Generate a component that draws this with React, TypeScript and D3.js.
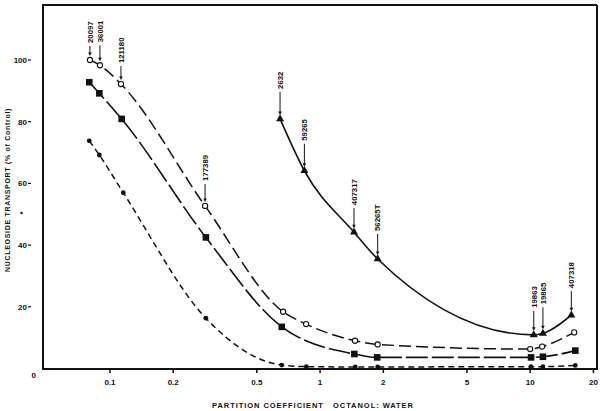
import React from "react";
import * as d3 from "d3";

// ---- data ----
// Series A: open circles, long dashes
const seriesAX = [0.0803, 0.0896, 0.1128, 0.2836, 0.667, 0.858, 1.467, 1.88, 10.0, 11.4, 16.2];
const seriesAY = [100, 98.3, 92.2, 52.7, 18.4, 14.4, 9.0, 7.8, 6.3, 7.1, 11.7];
// Series B: filled squares, long dash
const seriesBX = [0.0797, 0.089, 0.1137, 0.286, 0.657, 1.456, 1.87, 10.1, 11.5, 16.4];
const seriesBY = [92.8, 89.2, 80.9, 42.5, 13.5, 4.7, 3.6, 3.6, 3.8, 5.8];
// Series C: filled circles, short dashes
const seriesCX = [0.0797, 0.089, 0.1157, 0.286, 0.657, 0.86, 1.47, 1.88, 10.1, 11.5, 16.4];
const seriesCY = [73.8, 69.2, 57.0, 16.3, 1.1, 0.6, 0.5, 0.5, 0.6, 0.6, 1.0];
// Series D: filled triangles, solid
const seriesDX = [0.645, 0.842, 1.45, 1.88, 10.4, 11.5, 15.7];
const seriesDY = [80.9, 64.1, 44.2, 35.5, 10.9, 11.4, 17.3];

const xTicks = [0.1, 0.2, 0.5, 1, 2, 5, 10, 20];
const xTickLabels = ["0.1", "0.2", "0.5", "1", "2", "5", "10", "20"];
const yTicks = [0, 20, 40, 60, 80, 100];

// annotations: compound labels attached to points
const annotationSeries = ["A", "A", "A", "A", "D", "D", "D", "D", "D", "D", "D"];
const annotationIndex = [0, 1, 2, 3, 0, 1, 2, 3, 4, 5, 6];
const annotationLabels = ["20097", "36001", "121180", "177389", "2632", "59265", "407317", "56265T", "19863", "19865", "407318"];
const annotationLeads = [14, 20, 18, 22, 27, 27, 24, 25, 24, 26, 24];

const xTitle = "PARTITION COEFFICIENT   OCTANOL: WATER";
const yTitle = "NUCLEOSIDE TRANSPORT (% of Control)";

const W = 600;
const H = 411;
const L = 43, R = 597, T = 5, B = 369;
const FONT = "'Liberation Sans', Arial, sans-serif";

export default function App() {
  const x = d3.scaleLog().domain([0.048, 20.8]).range([L, R]);
  const y = d3.scaleLinear().domain([0, 100]).range([368.5, 60]);

  const mk = (xs: number[], ys: number[]) => xs.map((v, i) => [v, ys[i]] as [number, number]);
  const A = mk(seriesAX, seriesAY);
  const Bs = mk(seriesBX, seriesBY);
  const C = mk(seriesCX, seriesCY);
  const D = mk(seriesDX, seriesDY);
  const bySeries: Record<string, [number, number][]> = { A, B: Bs, C, D };

  const line = d3
    .line<[number, number]>()
    .x((d) => x(d[0]))
    .y((d) => y(d[1]))
    .curve(d3.curveMonotoneX);

  const tri = d3.symbol().type(d3.symbolTriangle).size(28)() as string;

  return (
    <div style={{ position: "fixed", left: 0, top: 0 }}>
      <svg width={W} height={H} style={{ display: "block", background: "#fff" }} fontFamily={FONT}>
        {/* frame */}
        <line x1={L} y1={T} x2={R} y2={T} stroke="#111" strokeWidth={2} />
        <line x1={R} y1={T} x2={R} y2={B} stroke="#111" strokeWidth={2} />
        <line x1={L} y1={T - 1} x2={L} y2={B + 1} stroke="#111" strokeWidth={2} />
        <line x1={L - 1} y1={B} x2={R + 1} y2={B} stroke="#111" strokeWidth={2.2} />

        {/* x ticks */}
        {xTicks.map((t, i) => (
          <g key={"xt" + i}>
            <line x1={x(t)} x2={x(t)} y1={B} y2={B + 4} stroke="#111" strokeWidth={1.5} />
            <text x={x(t)} y={385} textAnchor="middle" fontSize={8} fontWeight="bold" fill="#111">
              {xTickLabels[i]}
            </text>
          </g>
        ))}

        {/* y ticks */}
        {yTicks.map((t, i) => (
          <g key={"yt" + i}>
            {t > 0 && <line x1={28} x2={31} y1={y(t)} y2={y(t)} stroke="#111" strokeWidth={1.2} />}
            <text
              x={t > 0 ? 27 : 36}
              y={t > 0 ? y(t) + 3 : y(t) + 9}
              textAnchor="end"
              fontSize={8}
              fontWeight="bold"
              fill="#111"
            >
              {t}
            </text>
          </g>
        ))}

        {/* titles */}
        <text x={212} y={408} fontSize={7.5} fontWeight="bold" fill="#111" letterSpacing={0.95} style={{ whiteSpace: "pre" }}>
          {xTitle}
        </text>
        <text
          transform={`translate(10,${190}) rotate(-90)`}
          textAnchor="middle"
          fontSize={7}
          fontWeight="bold"
          fill="#111"
          letterSpacing={0.7}
        >
          {yTitle}
        </text>
        <circle cx={21.5} cy={213} r={1.2} fill="#111" />

        {/* curves */}
        <path d={line(A) || ""} fill="none" stroke="#111" strokeWidth={1.5} strokeDasharray="12,5" />
        <path d={line(Bs) || ""} fill="none" stroke="#111" strokeWidth={1.6} strokeDasharray="22,4" />
        <path d={line(C) || ""} fill="none" stroke="#111" strokeWidth={1.5} strokeDasharray="6,4" />
        <path d={line(D) || ""} fill="none" stroke="#111" strokeWidth={1.6} />

        {/* markers */}
        {A.map((d, i) => (
          <circle key={"a" + i} cx={x(d[0])} cy={y(d[1])} r={2.6} fill="#fff" stroke="#111" strokeWidth={1.1} />
        ))}
        {Bs.map((d, i) => (
          <rect key={"b" + i} x={x(d[0]) - 3.3} y={y(d[1]) - 3.3} width={6.6} height={6.6} fill="#111" />
        ))}
        {C.map((d, i) => (
          <circle key={"c" + i} cx={x(d[0])} cy={y(d[1])} r={2.4} fill="#111" />
        ))}
        {D.map((d, i) => (
          <path key={"d" + i} d={tri} transform={`translate(${x(d[0])},${y(d[1])})`} fill="#111" />
        ))}

        {/* annotations */}
        {annotationLabels.map((lab, i) => {
          const p = bySeries[annotationSeries[i]][annotationIndex[i]];
          const px = x(p[0]);
          const py = y(p[1]);
          const tipY = py - 4;
          const startY = py - annotationLeads[i];
          return (
            <g key={"an" + i}>
              <line x1={px} x2={px} y1={startY} y2={tipY - 2} stroke="#111" strokeWidth={1} />
              <path d={`M${px - 1.8},${tipY - 3.5} L${px + 1.8},${tipY - 3.5} L${px},${tipY} Z`} fill="#111" />
              <text
                transform={`translate(${px + 2.8},${startY - 3}) rotate(-90)`}
                fontSize={7.8}
                fontWeight="bold"
                fill="#111"
              >
                {lab}
              </text>
            </g>
          );
        })}
      </svg>
    </div>
  );
}
